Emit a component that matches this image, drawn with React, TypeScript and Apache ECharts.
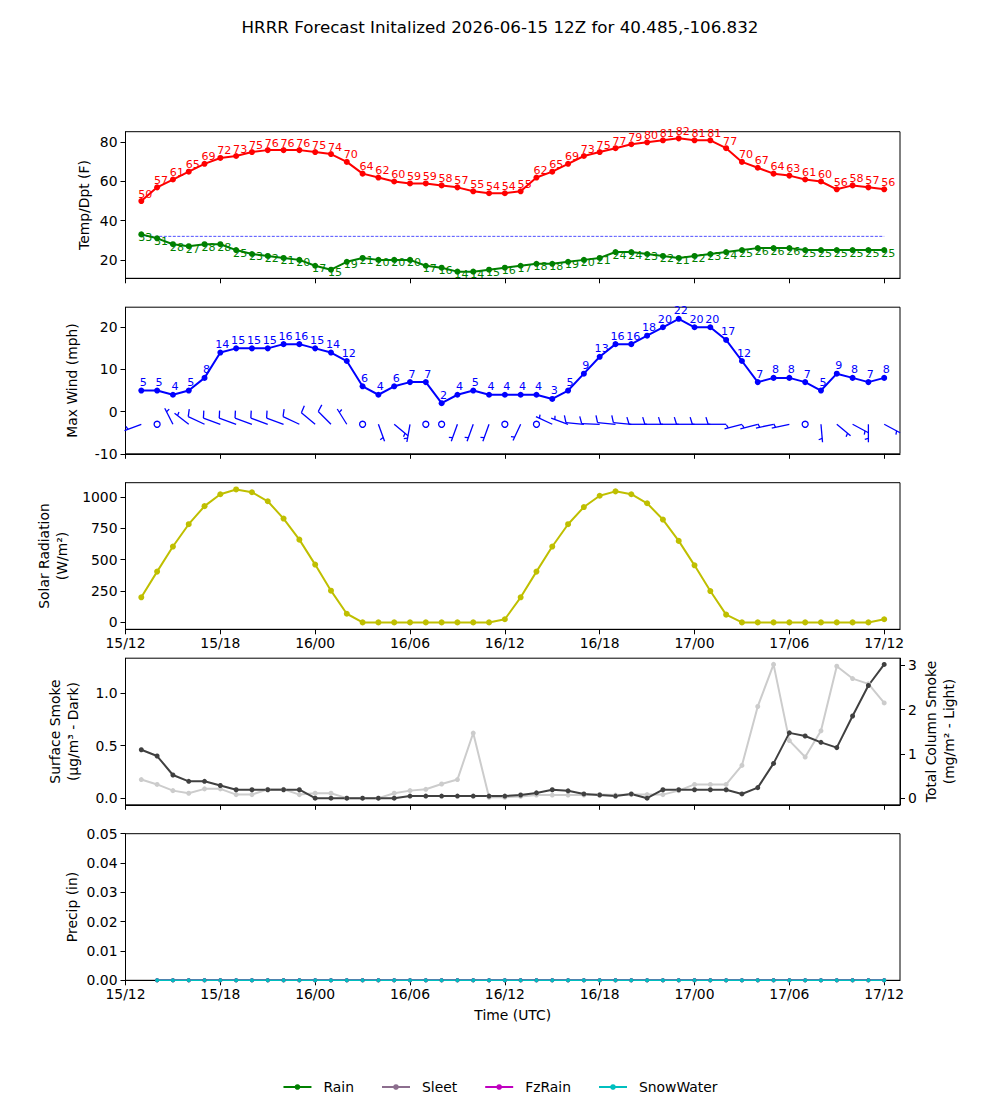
import React, { useEffect, useRef } from "react";
import * as echarts from "echarts";

const FONT = "DejaVu Sans";
const TICK_FS = 13.9;
const VALUE_FS = 11.1;

// Forecast hours after the 12Z initialization on the 15th
const hours = [
  1, 2, 3, 4, 5, 6, 7, 8, 9, 10, 11, 12, 13, 14, 15, 16, 17, 18, 19, 20, 21, 22, 23, 24,
  25, 26, 27, 28, 29, 30, 31, 32, 33, 34, 35, 36, 37, 38, 39, 40, 41, 42, 43, 44, 45, 46, 47, 48,
];
const precipHours = [
  2, 3, 4, 5, 6, 7, 8, 9, 10, 11, 12, 13, 14, 15, 16, 17, 18, 19, 20, 21, 22, 23, 24,
  25, 26, 27, 28, 29, 30, 31, 32, 33, 34, 35, 36, 37, 38, 39, 40, 41, 42, 43, 44, 45, 46, 47, 48,
];
const tickHours = [0, 6, 12, 18, 24, 30, 36, 42, 48];
const tickLabels = ["15/12", "15/18", "16/00", "16/06", "16/12", "16/18", "17/00", "17/06", "17/12"];

// Temperature and dew point (F)
const temperature = [
  50, 57, 61, 65, 69, 72, 73, 75, 76, 76, 76, 75, 74, 70, 64, 62, 60, 59, 59, 58, 57, 55, 54, 54,
  55, 62, 65, 69, 73, 75, 77, 79, 80, 81, 82, 81, 81, 77, 70, 67, 64, 63, 61, 60, 56, 58, 57, 56,
];
const dewpoint = [
  33, 31, 28, 27, 28, 28, 25, 23, 22, 21, 20, 17, 15, 19, 21, 20, 20, 20, 17, 16, 14, 14, 15, 16,
  17, 18, 18, 19, 20, 21, 24, 24, 23, 22, 21, 22, 23, 24, 25, 26, 26, 26, 25, 25, 25, 25, 25, 25,
];
const FREEZING = 32;

// Max wind (mph) and wind barbs (direction from, knots)
const maxWind = [
  5, 5, 4, 5, 8, 14, 15, 15, 15, 16, 16, 15, 14, 12, 6, 4, 6, 7, 7, 2, 4, 5, 4, 4,
  4, 4, 3, 5, 9, 13, 16, 16, 18, 20, 22, 20, 20, 17, 12, 7, 8, 8, 7, 5, 9, 8, 7, 8,
];
const BARB_LEVEL = -3;
const barbDir = [
  249, 0, 333, 308, 295, 290, 290, 290, 290, 290, 295, 310, 315, 328, 0, 160, 130, 190, 0, 0, 200, 200, 200, 0,
  205, 0, 295, 290, 275, 272, 275, 275, 270, 270, 270, 270, 270, 270, 255, 255, 258, 258, 0, 175, 130, 118, 180, 118,
];
const barbKnots = [
  5, 0, 5, 5, 10, 10, 10, 10, 10, 10, 10, 10, 10, 5, 0, 5, 5, 5, 0, 0, 5, 5, 5, 0,
  5, 0, 5, 5, 10, 10, 10, 10, 10, 10, 10, 10, 10, 10, 5, 5, 5, 5, 0, 5, 5, 5, 5, 5,
];

// Solar radiation (W/m2)
const solar = [
  200, 405, 605, 783, 927, 1022, 1060, 1038, 966, 828, 660, 461, 253, 69, 0, 0, 0, 0, 0, 0, 0, 0, 0, 25,
  200, 405, 605, 783, 920, 1010, 1045, 1022, 950, 820, 650, 455, 250, 62, 0, 0, 0, 0, 0, 0, 0, 0, 0, 25,
];

// Smoke: surface (ug/m3, dark) and total column (mg/m2, light)
const smokeSurface = [
  0.46, 0.4, 0.22, 0.16, 0.16, 0.12, 0.08, 0.08, 0.08, 0.08, 0.08, 0, 0, 0, 0, 0, 0, 0.02, 0.02, 0.02, 0.02, 0.02, 0.02, 0.02,
  0.03, 0.05, 0.08, 0.07, 0.04, 0.03, 0.02, 0.04, 0, 0.08, 0.08, 0.08, 0.08, 0.08, 0.04, 0.1, 0.33, 0.62, 0.59, 0.53, 0.48, 0.78, 1.07, 1.27,
];
const smokeColumn = [
  0.42, 0.31, 0.17, 0.11, 0.21, 0.21, 0.08, 0.08, 0.2, 0.2, 0.08, 0.11, 0.11, 0, 0, 0, 0.11, 0.17, 0.2, 0.32, 0.42, 1.47, 0.02, 0.02,
  0.04, 0.07, 0.07, 0.07, 0.07, 0.08, 0.07, 0.08, 0.08, 0.08, 0.17, 0.31, 0.31, 0.31, 0.74, 2.07, 3.02, 1.3, 0.93, 1.52, 2.98, 2.7, 2.58, 2.15,
];

// Precipitation (in)
const rain = [
  0, 0, 0, 0, 0, 0, 0, 0, 0, 0, 0, 0, 0, 0, 0, 0, 0, 0, 0, 0, 0, 0, 0,
  0, 0, 0, 0, 0, 0, 0, 0, 0, 0, 0, 0, 0, 0, 0, 0, 0, 0, 0, 0, 0, 0, 0, 0,
];
const sleet = [
  0, 0, 0, 0, 0, 0, 0, 0, 0, 0, 0, 0, 0, 0, 0, 0, 0, 0, 0, 0, 0, 0, 0,
  0, 0, 0, 0, 0, 0, 0, 0, 0, 0, 0, 0, 0, 0, 0, 0, 0, 0, 0, 0, 0, 0, 0, 0,
];
const fzRain = [
  0, 0, 0, 0, 0, 0, 0, 0, 0, 0, 0, 0, 0, 0, 0, 0, 0, 0, 0, 0, 0, 0, 0,
  0, 0, 0, 0, 0, 0, 0, 0, 0, 0, 0, 0, 0, 0, 0, 0, 0, 0, 0, 0, 0, 0, 0, 0,
];
const snowWater = [
  0, 0, 0, 0, 0, 0, 0, 0, 0, 0, 0, 0, 0, 0, 0, 0, 0, 0, 0, 0, 0, 0, 0,
  0, 0, 0, 0, 0, 0, 0, 0, 0, 0, 0, 0, 0, 0, 0, 0, 0, 0, 0, 0, 0, 0, 0, 0,
];

const TITLE = "HRRR Forecast Initalized 2026-06-15 12Z for 40.485,-106.832";

// panel geometry
const PANEL_LEFT = 125.5;
const PANEL_WIDTH = 774.5;
const PANEL_TOP0 = 131.7;
const PANEL_STEP = 175.5;
const PANEL_HEIGHT = 146.6;
const X_MAX = 49;

const BLUE = "#0000ff";
const SHAFT = 18;
const FEATHER = 7.2;
const SLANT = 2.2;
const SPACING = 2.6;

const renderBarb = (_params: any, api: any) => {
  const p = api.coord([api.value(0), api.value(1)]);
  const dir = api.value(2) as number;
  const kt = api.value(3) as number;
  const style = { stroke: BLUE, lineWidth: 1.3, fill: "none" };
  if (kt < 2.5) {
    return { type: "circle", shape: { cx: p[0], cy: p[1], r: 3 }, style };
  }
  const a = (dir * Math.PI) / 180;
  const dx = Math.sin(a);
  const dy = -Math.cos(a);
  const px = -dy;
  const py = dx;
  const tx = p[0] + dx * SHAFT;
  const ty = p[1] + dy * SHAFT;
  const children: any[] = [
    { type: "line", shape: { x1: p[0], y1: p[1], x2: tx, y2: ty }, style },
  ];
  const rounded = Math.round(kt / 5) * 5;
  const full = Math.floor(rounded / 10);
  const half = rounded % 10 === 5;
  let off = 0;
  for (let i = 0; i < full; i++) {
    const qx = tx - dx * off;
    const qy = ty - dy * off;
    children.push({
      type: "line",
      shape: { x1: qx, y1: qy, x2: qx + px * FEATHER + dx * SLANT, y2: qy + py * FEATHER + dy * SLANT },
      style,
    });
    off += SPACING;
  }
  if (half) {
    if (off === 0) off = 1.5 * SPACING;
    const qx = tx - dx * off;
    const qy = ty - dy * off;
    children.push({
      type: "line",
      shape: {
        x1: qx,
        y1: qy,
        x2: qx + (px * FEATHER) / 2 + (dx * SLANT) / 2,
        y2: qy + (py * FEATHER) / 2 + (dy * SLANT) / 2,
      },
      style,
    });
  }
  return { type: "group", children };
};

const tickText = { fontFamily: FONT, fontSize: TICK_FS, color: "#000" };

function xAxisFor(gridIndex: number, showLabels: boolean) {
  return {
    type: "value",
    gridIndex,
    min: 0,
    max: X_MAX,
    axisLine: { show: true, onZero: false, lineStyle: { color: "#000", width: 1 } },
    axisTick: {
      show: true,
      length: 5,
      lineStyle: { color: "#000", width: 1 },
      customValues: tickHours,
    },
    axisLabel: {
      show: showLabels,
      ...tickText,
      margin: 7,
      customValues: tickHours,
      formatter: (v: number) => {
        const i = tickHours.indexOf(Math.round(v));
        return i >= 0 ? tickLabels[i] : "";
      },
    },
    splitLine: { show: false },
  };
}

function yAxisFor(
  gridIndex: number,
  min: number,
  max: number,
  ticks: number[],
  fmt: (v: number) => string,
  position: "left" | "right" = "left"
) {
  return {
    type: "value",
    gridIndex,
    min,
    max,
    position,
    axisLine: { show: true, onZero: false, lineStyle: { color: "#000", width: 1 } },
    axisTick: { show: true, length: 5, lineStyle: { color: "#000", width: 1 }, customValues: ticks },
    axisLabel: { ...tickText, margin: 8, customValues: ticks, formatter: fmt },
    splitLine: { show: false },
  };
}

const pairs = (xs: number[], ys: number[]) => xs.map((x, i) => [x, ys[i]]);

function valueLabel(color: string, offset: number[]) {
  return {
    show: true,
    position: "inside",
    offset,
    color,
    fontFamily: FONT,
    fontSize: VALUE_FS,
    formatter: (p: any) => String(Math.round(p.value[1])),
  };
}

function lineSeries(
  name: string,
  xIdx: number,
  yIdx: number,
  data: number[][],
  color: string,
  width: number,
  symbolSize: number,
  extra: any = {}
) {
  return {
    name,
    type: "line",
    xAxisIndex: xIdx,
    yAxisIndex: yIdx,
    data,
    symbol: "circle",
    symbolSize,
    showSymbol: true,
    lineStyle: { color, width },
    itemStyle: { color },
    emphasis: { disabled: true },
    ...extra,
  };
}

function axisTitle(text: string, x: number, y: number) {
  return {
    type: "text",
    x,
    y,
    rotation: Math.PI / 2,
    style: {
      text,
      fontFamily: FONT,
      fontSize: TICK_FS,
      lineHeight: 18,
      fill: "#000",
      align: "center",
      verticalAlign: "middle",
    },
  };
}

export default function App() {
  const ref = useRef<HTMLDivElement>(null);

  useEffect(() => {
    if (!ref.current) return;
    const chart = echarts.init(ref.current, undefined, { renderer: "svg" });

    const grids = [0, 1, 2, 3, 4].map((k) => ({
      left: PANEL_LEFT,
      width: PANEL_WIDTH,
      top: PANEL_TOP0 + PANEL_STEP * k,
      height: PANEL_HEIGHT,
      show: true,
      borderColor: "#000",
      borderWidth: 1,
      backgroundColor: "transparent",
    }));

    const option: any = {
      animation: false,
      backgroundColor: "#fff",
      title: {
        text: TITLE,
        left: "center",
        top: 18,
        padding: 0,
        textStyle: { fontFamily: FONT, fontSize: 16.7, fontWeight: "normal", color: "#000" },
      },
      grid: grids,
      xAxis: [
        xAxisFor(0, false),
        xAxisFor(1, false),
        xAxisFor(2, true),
        xAxisFor(3, false),
        xAxisFor(4, true),
      ],
      yAxis: [
        yAxisFor(0, 10.6, 85.4, [20, 40, 60, 80], (v) => String(v)),
        yAxisFor(1, -10, 24.76, [-10, 0, 10, 20], (v) => String(v)),
        yAxisFor(2, -55, 1114, [0, 250, 500, 750, 1000], (v) => String(v)),
        yAxisFor(3, -0.063, 1.329, [0, 0.5, 1], (v) => v.toFixed(1)),
        yAxisFor(3, -0.15, 3.16, [0, 1, 2, 3], (v) => String(v), "right"),
        yAxisFor(4, 0, 0.05, [0, 0.01, 0.02, 0.03, 0.04, 0.05], (v) => v.toFixed(2)),
      ],
      legend: {
        data: ["Rain", "Sleet", "FzRain", "SnowWater"],
        left: "center",
        top: 1075,
        itemWidth: 28,
        itemHeight: 7,
        itemGap: 27,
        textStyle: { fontFamily: FONT, fontSize: TICK_FS, color: "#000", padding: [0, 0, 0, 7] },
      },
      graphic: [
        axisTitle("Temp/Dpt (F)", 84, PANEL_TOP0 + PANEL_HEIGHT / 2),
        axisTitle("Max Wind (mph)", 72, PANEL_TOP0 + PANEL_STEP + PANEL_HEIGHT / 2),
        axisTitle("Solar Radiation\n(W/m²)", 53, PANEL_TOP0 + PANEL_STEP * 2 + PANEL_HEIGHT / 2),
        axisTitle("Surface Smoke\n(μg/m³ - Dark)", 64, PANEL_TOP0 + PANEL_STEP * 3 + PANEL_HEIGHT / 2),
        axisTitle("Total Column Smoke\n(mg/m² - Light)", 940, PANEL_TOP0 + PANEL_STEP * 3 + PANEL_HEIGHT / 2),
        axisTitle("Precip (in)", 72, PANEL_TOP0 + PANEL_STEP * 4 + PANEL_HEIGHT / 2),
        {
          type: "text",
          x: PANEL_LEFT + PANEL_WIDTH / 2,
          y: 1015,
          style: {
            text: "Time (UTC)",
            fontFamily: FONT,
            fontSize: TICK_FS,
            fill: "#000",
            align: "center",
            verticalAlign: "middle",
          },
        },
      ],
      series: [
        lineSeries("Freezing", 0, 0, hours.map((h) => [h, FREEZING]), BLUE, 0.7, 0, {
          showSymbol: false,
          symbol: "none",
          lineStyle: { color: BLUE, width: 0.7, type: [3, 1.5] },
        }),
        lineSeries("Temperature", 0, 0, pairs(hours, temperature), "#ff0000", 2, 6, {
          label: valueLabel("#ff0000", [4, -7]),
        }),
        lineSeries("Dewpoint", 0, 0, pairs(hours, dewpoint), "#008000", 2, 6, {
          label: valueLabel("#008000", [4, 3]),
        }),
        lineSeries("Max Wind", 1, 1, pairs(hours, maxWind), BLUE, 2, 6, {
          label: valueLabel(BLUE, [2, -8]),
        }),
        {
          name: "Wind Barbs",
          type: "custom",
          xAxisIndex: 1,
          yAxisIndex: 1,
          clip: false,
          silent: true,
          encode: { x: 0, y: 1 },
          data: hours.map((h, i) => [h, BARB_LEVEL, barbDir[i], barbKnots[i]]),
          renderItem: renderBarb,
        },
        lineSeries("Solar", 2, 2, pairs(hours, solar), "#bfbf00", 2, 6),
        lineSeries("Column Smoke", 3, 4, pairs(hours, smokeColumn), "#cccccc", 2, 5),
        lineSeries("Surface Smoke", 3, 3, pairs(hours, smokeSurface), "#404040", 2, 5),
        lineSeries("Rain", 4, 5, pairs(precipHours, rain), "#008000", 1.5, 4),
        lineSeries("Sleet", 4, 5, pairs(precipHours, sleet), "#8c6e8e", 1.5, 4),
        lineSeries("FzRain", 4, 5, pairs(precipHours, fzRain), "#bf00bf", 1.5, 4),
        lineSeries("SnowWater", 4, 5, pairs(precipHours, snowWater), "#00bfbf", 1.5, 4),
      ],
    };

    chart.setOption(option);
    return () => chart.dispose();
  }, []);

  return (
    <div
      ref={ref}
      style={{ position: "absolute", left: 0, top: 0, width: 1000, height: 1100, background: "#fff" }}
    />
  );
}
